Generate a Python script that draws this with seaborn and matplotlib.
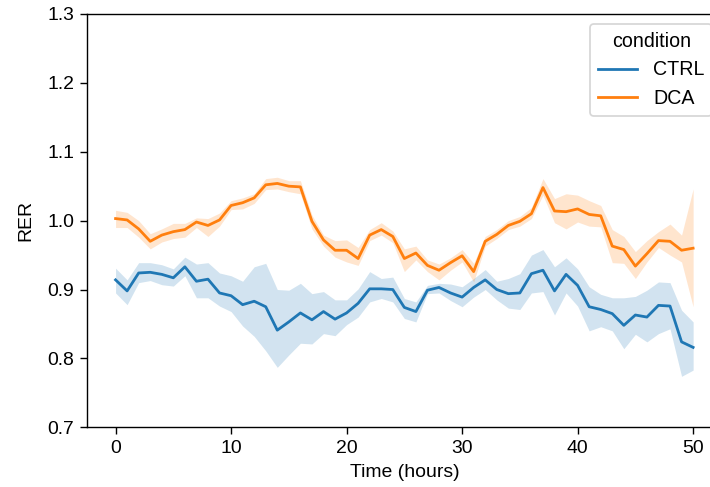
import matplotlib
matplotlib.use("Agg")
import matplotlib.pyplot as plt
import numpy as np
import pandas as pd
import seaborn as sns

plt.rcParams['font.family'] = ['Liberation Sans', 'DejaVu Sans']
plt.rcParams['font.size'] = 11.2
plt.rcParams['axes.labelsize'] = 11.2
plt.rcParams['xtick.labelsize'] = 11.2
plt.rcParams['ytick.labelsize'] = 11.2
plt.rcParams['legend.fontsize'] = 11.3
plt.rcParams['legend.title_fontsize'] = 11.3

hours = list(range(0, 51))

ctrl_mean = [0.914, 0.898, 0.924, 0.925, 0.922, 0.917, 0.933, 0.912, 0.915, 0.895,
             0.891, 0.878, 0.883, 0.875, 0.841, 0.853, 0.866, 0.856, 0.868, 0.857,
             0.866, 0.880, 0.901, 0.901, 0.900, 0.874, 0.868, 0.899, 0.903, 0.895,
             0.889, 0.903, 0.914, 0.900, 0.894, 0.895, 0.923, 0.928, 0.898, 0.922,
             0.906, 0.875, 0.871, 0.865, 0.848, 0.863, 0.860, 0.877, 0.876, 0.824,
             0.816]
ctrl_lo = [0.895, 0.878, 0.910, 0.913, 0.907, 0.905, 0.920, 0.888, 0.888, 0.876,
           0.868, 0.847, 0.832, 0.811, 0.787, 0.805, 0.822, 0.821, 0.836, 0.833,
           0.849, 0.860, 0.882, 0.887, 0.882, 0.858, 0.853, 0.894, 0.895, 0.884,
           0.875, 0.889, 0.900, 0.885, 0.873, 0.871, 0.895, 0.897, 0.863, 0.895,
           0.876, 0.840, 0.846, 0.840, 0.814, 0.835, 0.824, 0.836, 0.843, 0.774,
           0.783]
ctrl_hi = [0.931, 0.914, 0.939, 0.939, 0.936, 0.930, 0.947, 0.937, 0.939, 0.924,
           0.920, 0.912, 0.933, 0.938, 0.900, 0.899, 0.909, 0.894, 0.897, 0.885,
           0.885, 0.901, 0.926, 0.916, 0.918, 0.887, 0.882, 0.906, 0.909, 0.908,
           0.904, 0.916, 0.929, 0.912, 0.916, 0.923, 0.950, 0.958, 0.933, 0.946,
           0.930, 0.904, 0.893, 0.888, 0.888, 0.890, 0.899, 0.911, 0.910, 0.870,
           0.853]

dca_mean = [1.003, 1.001, 0.988, 0.970, 0.979, 0.984, 0.987, 0.998, 0.993, 1.001,
            1.022, 1.026, 1.033, 1.052, 1.054, 1.050, 1.049, 0.999, 0.972, 0.957,
            0.957, 0.945, 0.979, 0.987, 0.977, 0.945, 0.953, 0.935, 0.928, 0.939,
            0.949, 0.926, 0.970, 0.980, 0.993, 0.999, 1.010, 1.048, 1.014, 1.013,
            1.017, 1.009, 1.007, 0.963, 0.958, 0.934, 0.952, 0.971, 0.970, 0.957,
            0.960]
dca_lo = [0.990, 0.990, 0.976, 0.959, 0.969, 0.974, 0.976, 0.990, 0.977, 0.992,
          1.016, 1.017, 1.025, 1.045, 1.046, 1.042, 1.039, 0.988, 0.963, 0.947,
          0.940, 0.935, 0.971, 0.979, 0.968, 0.926, 0.943, 0.926, 0.914, 0.928,
          0.940, 0.911, 0.963, 0.974, 0.987, 0.992, 1.003, 1.037, 0.997, 0.988,
          0.998, 0.992, 0.991, 0.939, 0.938, 0.916, 0.940, 0.961, 0.950, 0.940,
          0.875]
dca_hi = [1.015, 1.012, 1.000, 0.981, 0.988, 0.996, 0.996, 1.004, 1.003, 1.011,
          1.029, 1.033, 1.039, 1.061, 1.063, 1.058, 1.058, 1.008, 0.979, 0.971,
          0.972, 0.961, 0.987, 0.997, 0.985, 0.959, 0.963, 0.943, 0.937, 0.946,
          0.958, 0.938, 0.977, 0.987, 1.000, 1.006, 1.019, 1.061, 1.032, 1.039,
          1.037, 1.029, 1.022, 0.987, 0.977, 0.955, 0.971, 0.984, 0.995, 0.979,
          1.046]

conditions = ["CTRL", "DCA"]
y_ticks = [0.7, 0.8, 0.9, 1.0, 1.1, 1.2, 1.3]
x_ticks = [0, 10, 20, 30, 40, 50]

df = pd.DataFrame({
    "Time (hours)": hours + hours,
    "RER": ctrl_mean + dca_mean,
    "condition": ["CTRL"] * len(hours) + ["DCA"] * len(hours),
})

palette = {"CTRL": "#1f77b4", "DCA": "#ff7f0e"}

fig = plt.figure(figsize=(5.68, 3.896), dpi=125)
ax = fig.add_axes([0.1221, 0.1226, 0.8948, 0.8487])

sns.lineplot(data=df, x="Time (hours)", y="RER", hue="condition",
             hue_order=conditions, palette=palette, errorbar=None, ax=ax,
             linewidth=1.6)

bands = {"CTRL": (ctrl_lo, ctrl_hi), "DCA": (dca_lo, dca_hi)}
for cond in conditions:
    lo, hi = bands[cond]
    ax.fill_between(hours, lo, hi, color=palette[cond], alpha=0.2, linewidth=0)

ax.set_xlim(-2.5, 52.5)
ax.set_ylim(0.7, 1.3)
ax.set_yticks(y_ticks)
ax.set_xticks(x_ticks)
ax.tick_params(length=3.8)
ax.set_ylabel("RER", labelpad=7)
ax.legend(title="condition", loc="upper right")

fig.savefig("out.png", dpi=125)
